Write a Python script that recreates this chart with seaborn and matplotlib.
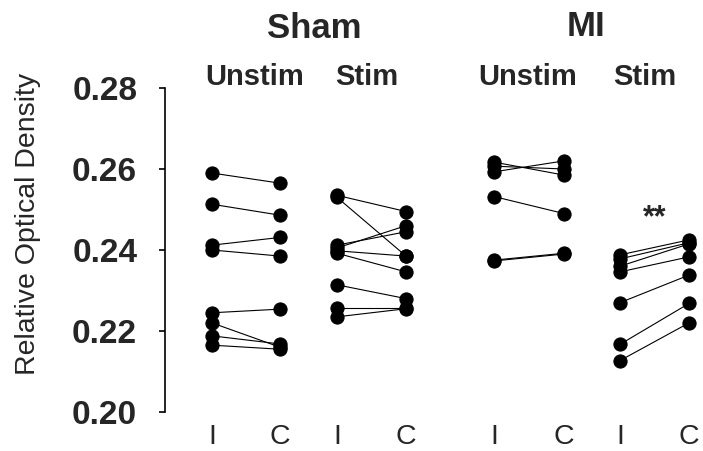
import numpy as np
import pandas as pd
import matplotlib
matplotlib.use("Agg")
import matplotlib.pyplot as plt
import seaborn as sns

# ---------------- data ----------------
groups = ["Sham", "Sham", "MI", "MI"]
conditions = ["Unstim", "Stim", "Unstim", "Stim"]
side_labels = ["I", "C"]

sham_unstim_I = [0.2590, 0.2513, 0.2412, 0.2400, 0.2245, 0.2220, 0.2188, 0.2165]
sham_unstim_C = [0.2565, 0.2486, 0.2431, 0.2385, 0.2254, 0.2160, 0.2168, 0.2155]

sham_stim_I = [0.2535, 0.2530, 0.2412, 0.2405, 0.2398, 0.2392, 0.2314, 0.2258, 0.2235]
sham_stim_C = [0.2495, 0.2385, 0.2445, 0.2460, 0.2385, 0.2346, 0.2280, 0.2258, 0.2255]

mi_unstim_I = [0.2617, 0.2607, 0.2593, 0.2532, 0.2375, 0.2373]
mi_unstim_C = [0.2585, 0.2600, 0.2620, 0.2490, 0.2392, 0.2390]

mi_stim_I = [0.2388, 0.2378, 0.2360, 0.2346, 0.2270, 0.2167, 0.2127]
mi_stim_C = [0.2425, 0.2418, 0.2415, 0.2383, 0.2338, 0.2268, 0.2220]

y_ticks = [0.20, 0.22, 0.24, 0.26, 0.28]
y_label = "Relative Optical Density"
signif = "**"

# ---------------- layout ----------------
W, H = 703, 451
ax_left_px, ax_right_px = 165, 703
ax_bottom_px, ax_top_px = 412, 88
# x positions (pixel-like units) of I and C for each panel
pair_pos = [(212, 280), (337, 406), (494, 564), (620, 689)]

sets = [(sham_unstim_I, sham_unstim_C), (sham_stim_I, sham_stim_C),
        (mi_unstim_I, mi_unstim_C), (mi_stim_I, mi_stim_C)]

rows = []
for gi, ((vi, vc), (xi, xc)) in enumerate(zip(sets, pair_pos)):
    for k, (a, b) in enumerate(zip(vi, vc)):
        uid = f"{gi}_{k}"
        rows.append({"x": xi, "value": a, "uid": uid, "side": "I"})
        rows.append({"x": xc, "value": b, "uid": uid, "side": "C"})
df = pd.DataFrame(rows)

sns.set_style("white")
plt.rcParams["font.family"] = ["Liberation Sans", "DejaVu Sans"]

fig = plt.figure(figsize=(W / 100, H / 100), dpi=100)
ax = fig.add_axes([ax_left_px / W, (H - ax_bottom_px) / H,
                   (ax_right_px - ax_left_px) / W, (ax_bottom_px - ax_top_px) / H])

sns.lineplot(data=df, x="x", y="value", units="uid", estimator=None,
             color="black", linewidth=0.8, marker="o", markersize=9.5,
             markeredgecolor="black", markerfacecolor="black",
             sort=False, ax=ax, legend=False)
for ln in ax.lines:
    ln.set_clip_on(False)

ax.set_xlim(ax_left_px, ax_right_px)
ax.set_ylim(0.20, 0.28)
ax.set_yticks(y_ticks)
ax.set_yticklabels([f"{t:.2f}" for t in y_ticks], fontsize=24, fontweight="bold")
ax.tick_params(axis="y", direction="out", length=4, width=1.2, pad=16, left=True,
               color="black")

xt = [p for pr in pair_pos for p in pr]
ax.set_xticks(xt)
ax.set_xticklabels(side_labels * 4, fontsize=20.5)
ax.tick_params(axis="x", length=0, pad=9)

ax.set_xlabel("")
ax.set_ylabel("")
for s in ["top", "right", "bottom"]:
    ax.spines[s].set_visible(False)
ax.spines["left"].set_color("black")
ax.spines["left"].set_linewidth(1.2)
ax.grid(False)

# group titles
def ftext(xp, yp, s, **kw):
    fig.text(xp / W, 1 - yp / H, s, ha="center", va="center", **kw)

ftext(314, 29, groups[0], fontsize=25, fontweight="bold")
ftext(586, 26, groups[2], fontsize=25, fontweight="bold")
cond_x = [255, 367, 528, 645]
for cx, c in zip(cond_x, conditions):
    ftext(cx, 77, c, fontsize=21, fontweight="bold")

ftext(28, 224, y_label, fontsize=20.5, rotation=90)

# significance marker
ax.text(np.mean(pair_pos[3]), 0.2478, signif, ha="center", va="center",
        fontsize=22, fontweight="bold")

fig.savefig("out.png", dpi=100, facecolor="white")
